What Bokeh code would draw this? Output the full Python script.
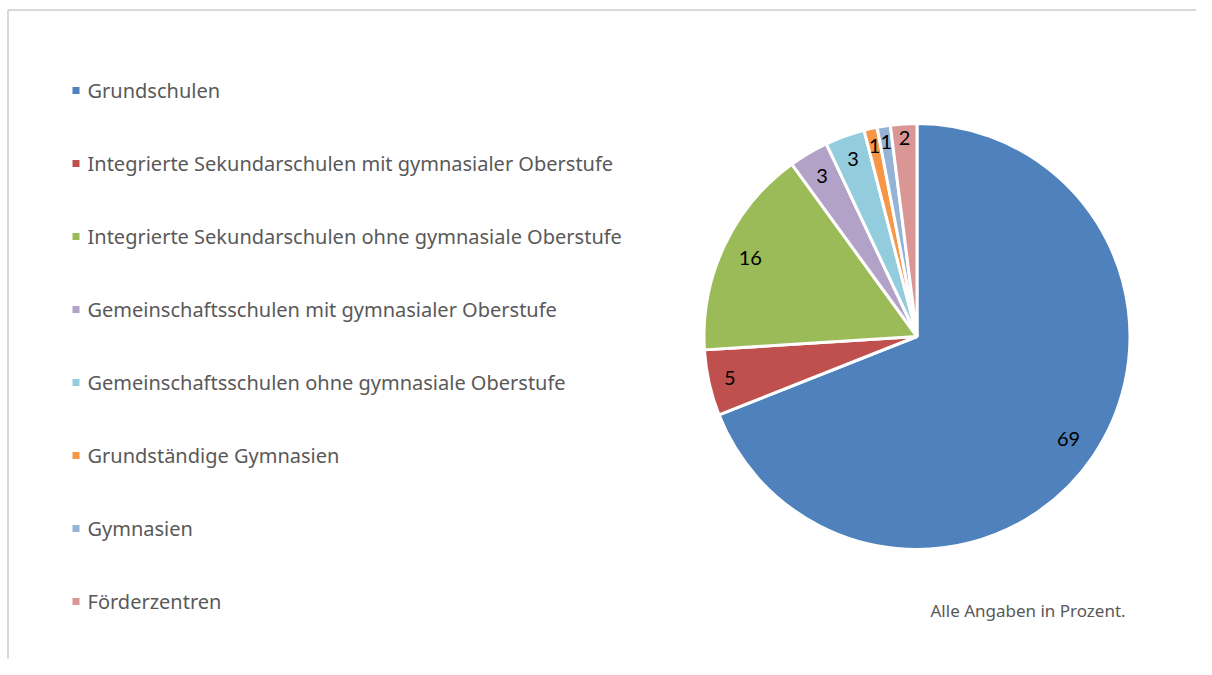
import math
from bokeh.plotting import figure
from bokeh.models import Range1d, ColumnDataSource
from bokeh.core.properties import value
from bokeh.embed import file_html
from bokeh.resources import INLINE

# ---- data ----
categories = [
    "Grundschulen",
    "Integrierte Sekundarschulen mit gymnasialer Oberstufe",
    "Integrierte Sekundarschulen ohne gymnasiale Oberstufe",
    "Gemeinschaftsschulen mit gymnasialer Oberstufe",
    "Gemeinschaftsschulen ohne gymnasiale Oberstufe",
    "Grundständige Gymnasien",
    "Gymnasien",
    "Förderzentren",
]
values = [69, 5, 16, 3, 3, 1, 1, 2]
colors = ["#4F81BD", "#C0504D", "#9BBB59", "#B3A2C7", "#93CDDD", "#F79646", "#95B3D7", "#D99694"]
note = "Alle Angaben in Prozent."

# ---- layout (data space == screen pixels, y measured from bottom of 675) ----
W, H = 1196, 659
cx, cy, R = 916.5, 339.0, 213.0
label_frac = [0.86, 0.90, 0.865, 0.875, 0.885, 0.915, 0.925, 0.935]
LEG_FONT = "Noto Sans"
LBL_FONT = "Lato"

p = figure(width=W, height=H, x_range=Range1d(0, W), y_range=Range1d(675 - H, 675),
           output_backend="svg", toolbar_location=None, min_border=0,
           x_axis_type=None, y_axis_type=None, outline_line_color=None)
p.grid.visible = False
p.background_fill_color = "white"
p.border_fill_color = "white"

# frame lines (top and left; the rest is clipped in the reference)
p.segment(x0=[7.5, 7.5], y0=[665.5, 665.5], x1=[W, 7.5], y1=[665.5, 0],
          line_color="#d9d9d9", line_width=2)

total = float(sum(values))
starts, ends, lx, ly = [], [], [], []
cum = 0.0
for i, v in enumerate(values):
    a0 = math.pi / 2 - 2 * math.pi * cum / total
    cum += v
    a1 = math.pi / 2 - 2 * math.pi * cum / total
    starts.append(a1)
    ends.append(a0)
    mid = (a0 + a1) / 2
    lx.append(cx + R * label_frac[i] * math.cos(mid))
    ly.append(cy + R * label_frac[i] * math.sin(mid))

src = ColumnDataSource(dict(start=starts, end=ends, color=colors,
                            lx=lx, ly=ly, lab=[str(v) for v in values]))
p.wedge(x=cx, y=cy, radius=R, start_angle="start", end_angle="end",
        direction="anticlock", fill_color="color", line_color="white",
        line_width=3, source=src)
p.text(x="lx", y="ly", text="lab", source=src, text_font=value(LBL_FONT),
       text_font_size="20px", text_color="#000000", text_align="center",
       text_baseline="middle")

# legend
leg_y = [585 - 73 * i for i in range(len(categories))]
p.rect(x=[75.5] * len(categories), y=leg_y, width=7, height=7,
       fill_color=colors, line_color=None)
p.text(x=[87] * len(categories), y=leg_y, text=categories,
       text_font=value(LEG_FONT), text_font_size="20px", text_color="#595959",
       text_align="left", text_baseline="middle")

# note
p.text(x=[930], y=[65], text=[note], text_font=value(LEG_FONT),
       text_font_size="17px", text_color="#595959", text_align="left",
       text_baseline="middle")

open("out.html", "w").write(file_html(p, INLINE))
